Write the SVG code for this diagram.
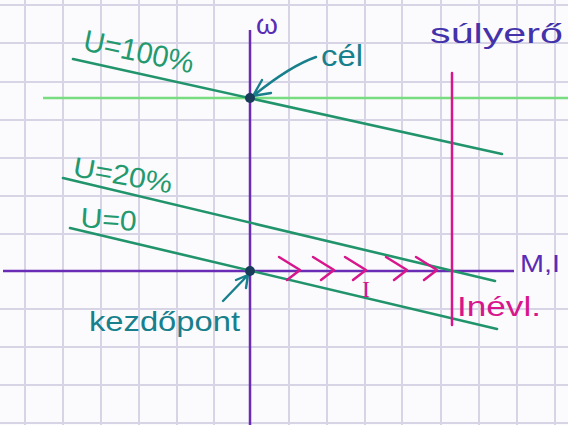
<svg xmlns="http://www.w3.org/2000/svg" width="568" height="425" viewBox="0 0 568 425">
<defs>
<style>
.grid{stroke:#d7d4e6;stroke-width:2;fill:none}
.axis{stroke:#6a2cb4;stroke-width:2.5;fill:none}
.char{stroke:#22946c;stroke-width:2.6;fill:none;stroke-linecap:round}
.mag{stroke:#d8168c;stroke-width:2.5;fill:none;stroke-linecap:round;stroke-linejoin:round}
.teal{stroke:#187f8c;stroke-width:2.4;fill:none;stroke-linecap:round;stroke-linejoin:round}
.t{font-family:"Liberation Sans","DejaVu Sans",sans-serif}
.tg{fill:#24996e}
.tt{fill:#187f8c}
.tp{fill:#5a2cb4}
.tb{fill:#4332aa}
.tm{fill:#d8168c}
</style>
<path id="chev" d="M-21,-13 L0,0 L-13,10"/>
</defs>
<rect width="568" height="425" fill="#fbfbfd"/>
<g id="grid">
<path class="grid" d="M25,0V425M63,0V425M101,0V425M139,0V425M177,0V425M214,0V425M289,0V425M327,0V425M365,0V425M402,0V425M441,0V425M479,0V425M517,0V425M555,0V425"/>
<path class="grid" d="M0,5H568M0,43H568M0,82H568M0,120H568M0,158H568M0,196H568M0,234H568M0,309H568M0,347H568M0,385H568M0,423H568"/>
</g>
<g id="connectors">
<line x1="43" y1="98" x2="568" y2="98" stroke="#78dc80" stroke-width="2.5"/>
<line class="axis" x1="250" y1="30" x2="250" y2="425"/>
<line class="axis" x1="3" y1="271" x2="514" y2="271"/>
<line class="char" x1="73" y1="59" x2="502" y2="154"/>
<line class="char" x1="63" y1="178" x2="495" y2="281"/>
<line class="char" x1="70" y1="228" x2="497" y2="329"/>
<line class="mag" x1="452" y1="73" x2="452" y2="325"/>
<g class="mag" stroke-width="3.2">
<use href="#chev" transform="translate(300,270)"/>
<use href="#chev" transform="translate(334,270)"/>
<use href="#chev" transform="translate(366,270)"/>
<use href="#chev" transform="translate(407,270)"/>
<use href="#chev" transform="translate(437,270)"/>
</g>
<path class="teal" d="M316,57 Q290,66 253,96 M253,96 L262,80 M253,96 L271,93"/>
<path class="teal" d="M223,301 L248,275 M248,275 L236,280 M248,275 L246,288"/>
</g>
<g id="cel-point"><circle cx="250" cy="98" r="5" fill="#1b3d5c"/></g>
<g id="kezdopont-point"><circle cx="250" cy="271" r="5" fill="#1b3d5c"/></g>
<g id="labels" class="t">
<text class="tp" x="256" y="34" font-size="28">ω</text>
<text class="tb" x="430" y="43" font-size="28" textLength="133" lengthAdjust="spacingAndGlyphs">súlyerő</text>
<text class="tt" x="321" y="66" font-size="30" textLength="42" lengthAdjust="spacingAndGlyphs">cél</text>
<text class="tg" font-size="30" transform="translate(82,50) rotate(12)" textLength="112" lengthAdjust="spacingAndGlyphs">U=100%</text>
<text class="tg" font-size="28" transform="translate(72,176) rotate(10)" textLength="100" lengthAdjust="spacingAndGlyphs">U=20%</text>
<text class="tg" font-size="28" transform="translate(80,227) rotate(4)" textLength="56" lengthAdjust="spacingAndGlyphs">U=0</text>
<text class="tt" x="89" y="331" font-size="28" textLength="151" lengthAdjust="spacingAndGlyphs">kezdőpont</text>
<text class="tp" x="520" y="272" font-size="24" textLength="40" lengthAdjust="spacingAndGlyphs">M,I</text>
<text class="tm" x="362" y="297" font-size="24" font-family="Liberation Serif, serif">I</text>
<text class="tm" x="457" y="316" font-size="28" textLength="84" lengthAdjust="spacingAndGlyphs">Inévl.</text>
</g>
</svg>
